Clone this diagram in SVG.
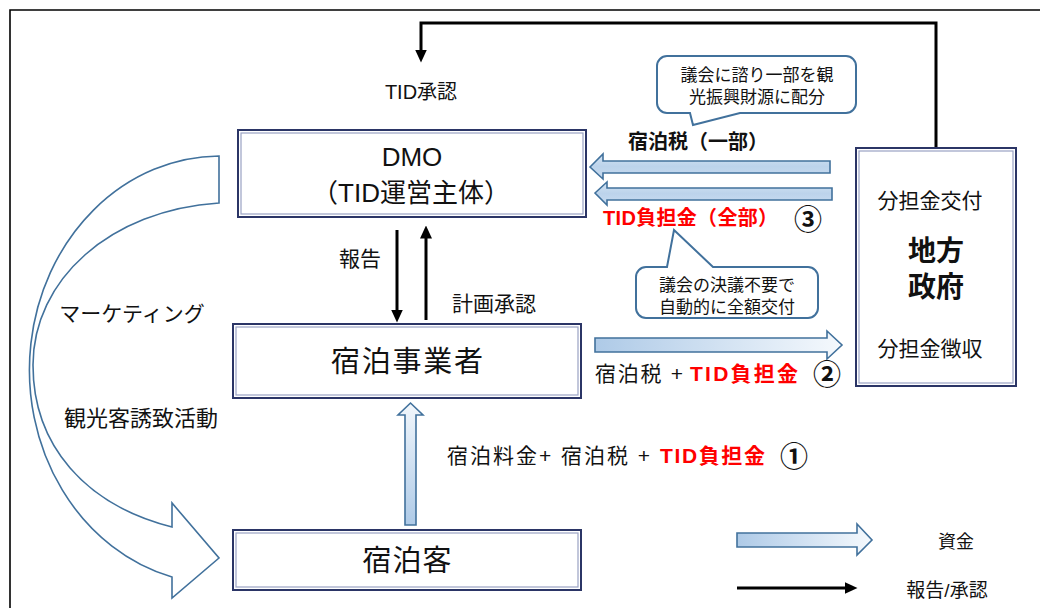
<svg xmlns="http://www.w3.org/2000/svg" width="1040" height="608" viewBox="0 0 1040 608">
<style>
text{font-family:"Liberation Sans","Noto Sans CJK JP",sans-serif;fill:#111;dominant-baseline:central}
.c{text-anchor:middle}
.b{font-weight:bold}
.num{font-family:"Noto Sans CJK JP",sans-serif;font-weight:bold;font-size:28px;text-anchor:middle}
.red{fill:#FF0000;font-weight:bold}
.bx{fill:#fff;stroke:#2B3566;stroke-width:2}
.bi{fill:none;stroke:#9AA2C4;stroke-width:1.2}
.blk{fill:none;stroke:#000;stroke-width:3;marker-end:url(#ah)}
.fund{stroke:#41719C;stroke-width:1.6;stroke-linejoin:miter}
.call{fill:#fff;stroke:#41719C;stroke-width:2}
</style>
<defs>
<marker id="ah" viewBox="0 0 13 12" refX="0.5" refY="6" markerWidth="13" markerHeight="12" markerUnits="userSpaceOnUse" orient="auto">
<path d="M0,0 L13,6 L0,12 Z" fill="#000"/>
</marker>
<linearGradient id="gR" x1="0" y1="0" x2="1" y2="0">
<stop offset="0" stop-color="#AECAE7"/><stop offset="1" stop-color="#F5F9FD"/>
</linearGradient>
<linearGradient id="gL" x1="0" y1="0" x2="0" y2="1">
<stop offset="0" stop-color="#D3E3F3"/><stop offset="0.5" stop-color="#BCD3EB"/><stop offset="1" stop-color="#C9DCF0"/>
</linearGradient>
<linearGradient id="gU" x1="0" y1="1" x2="0" y2="0">
<stop offset="0" stop-color="#AECAE7"/><stop offset="1" stop-color="#F2F7FC"/>
</linearGradient>
</defs>

<path d="M10,612 V10 H1044" fill="none" stroke="#000" stroke-width="1.6"/>

<g id="connectors">
<path class="blk" d="M936,147 V23 H421 V50"/>
<path class="blk" d="M397,230 V310"/>
<path class="blk" d="M426,320 V238"/>
<path class="fund" fill="url(#gL)" d="M590,167 L603,154 L603,161 L830,161 L830,173 L603,173 L603,179 Z"/>
<path class="fund" fill="url(#gL)" d="M595,193 L607,182 L607,188 L832,188 L832,200 L607,200 L607,205 Z"/>
<path class="fund" fill="url(#gR)" d="M595,338 L827,338 L827,331 L842,345 L827,359 L827,352 L595,352 Z"/>
<path class="fund" fill="url(#gU)" d="M405,525 L405,415 L398,415 L410.5,403 L423,415 L416,415 L416,525 Z"/>
<path id="marketing-arrow" fill="#fff" stroke="#41719C" stroke-width="1.6" d="M219,156 A191,214 0 0 0 172,577 L172,598 L219,558 L172,503 L172,527 C85,505 33,445 33,365 C33,280 110,210 219,203 Z"/>
</g>

<text class="c" x="421" y="92" font-size="20">TID承認</text>
<text class="c" x="132" y="313" font-size="21">マーケティング</text>
<text class="c" x="141" y="418" font-size="22">観光客誘致活動</text>
<text class="c" x="360" y="258" font-size="21">報告</text>
<text class="c" x="494" y="303" font-size="21">計画承認</text>

<g id="dmo">
<rect class="bx" x="238" y="130" width="348" height="87"/>
<rect class="bi" x="241" y="133" width="342" height="81"/>
<text class="c" x="412" y="157" font-size="26">DMO</text>
<text class="c" x="411" y="193" font-size="26">（TID運営主体）</text>
</g>

<g id="hotel">
<rect class="bx" x="233" y="324" width="348" height="74"/>
<rect class="bi" x="236" y="327" width="342" height="68"/>
<text class="c" x="407" y="362" font-size="29" textLength="152" lengthAdjust="spacing">宿泊事業者</text>
</g>

<g id="guest">
<rect class="bx" x="233" y="530" width="348" height="60"/>
<rect class="bi" x="236" y="533" width="342" height="54"/>
<text class="c" x="407" y="561" font-size="29" textLength="89" lengthAdjust="spacing">宿泊客</text>
</g>

<g id="gov">
<rect class="bx" x="856" y="148" width="160" height="238"/>
<rect class="bi" x="859" y="151" width="154" height="232"/>
<text class="c" x="930" y="200" font-size="21">分担金交付</text>
<text class="c b" x="936" y="251" font-size="28">地方</text>
<text class="c b" x="936" y="287" font-size="28">政府</text>
<text class="c" x="930" y="348" font-size="21">分担金徴収</text>
</g>

<g id="callout-top">
<path class="call" d="M667,56 H846 A10,10 0 0 1 856,66 V103 A10,10 0 0 1 846,113 H740 L693,125 L690,113 H667 A10,10 0 0 1 657,103 V66 A10,10 0 0 1 667,56 Z"/>
<text class="c" x="757" y="75" font-size="17">議会に諮り一部を観</text>
<text class="c" x="757" y="97" font-size="17">光振興財源に配分</text>
</g>

<g id="callout-mid">
<path class="call" d="M646,267 H667 L674,230 L713,267 H808 A10,10 0 0 1 818,277 V308 A10,10 0 0 1 808,318 H646 A10,10 0 0 1 636,308 V277 A10,10 0 0 1 646,267 Z"/>
<text class="c" x="727" y="285" font-size="17">議会の決議不要で</text>
<text class="c" x="727" y="307" font-size="17">自動的に全額交付</text>
</g>

<text class="b" x="628" y="142" font-size="20" textLength="140" lengthAdjust="spacing">宿泊税（一部）</text>
<text class="red" x="603" y="218" font-size="20" textLength="175" lengthAdjust="spacing">TID負担金（全部）</text>
<text class="num" x="808" y="218">③</text>

<text x="595" y="373" font-size="21" textLength="88" lengthAdjust="spacing">宿泊税 +</text>
<text class="red" x="690" y="373" font-size="21" textLength="108" lengthAdjust="spacing">TID負担金</text>
<text class="num" x="827" y="373">②</text>

<text x="447" y="455" font-size="21" textLength="203" lengthAdjust="spacing">宿泊料金+ 宿泊税 +</text>
<text class="red" x="660" y="455" font-size="21" textLength="105" lengthAdjust="spacing">TID負担金</text>
<text class="num" x="794" y="455">①</text>

<g id="legend">
<path class="fund" fill="url(#gR)" d="M737,533 L857,533 L857,524 L872,540 L857,555 L857,547 L737,547 Z"/>
<path class="blk" d="M737,588 H845"/>
<text class="c" x="956" y="542" font-size="18">資金</text>
<text class="c" x="947" y="590" font-size="19">報告/承認</text>
</g>
</svg>
